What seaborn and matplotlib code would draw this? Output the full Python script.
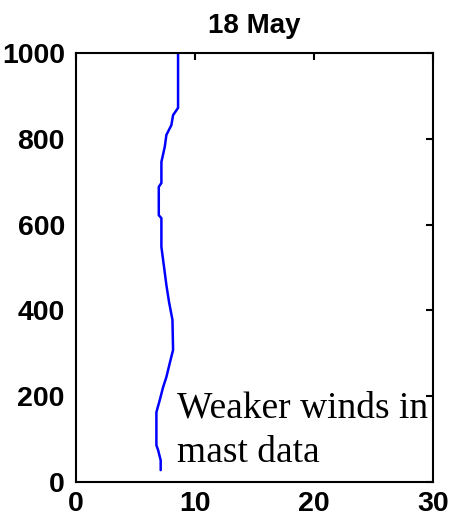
import matplotlib
matplotlib.use("Agg")
import matplotlib.pyplot as plt
import seaborn as sns
import pandas as pd

height = [1000, 872, 855, 832, 809, 781, 746, 697, 688, 622, 615, 548, 506, 459, 420, 378, 308, 277, 245, 221, 191, 163, 86, 75, 51, 28]
speed = [8.58, 8.58, 8.16, 8.02, 7.60, 7.46, 7.18, 7.18, 6.96, 6.96, 7.18, 7.18, 7.38, 7.60, 7.82, 8.11, 8.16, 7.88, 7.60, 7.32, 7.04, 6.76, 6.76, 6.90, 7.12, 7.12]
title = "18 May"
note = "Weaker winds in\nmast data"
xticks = [0, 10, 20, 30]
yticks = [0, 200, 400, 600, 800, 1000]

df = pd.DataFrame({"speed": speed, "height": height})

sns.set_style("white")
plt.rcParams["font.family"] = ["Liberation Sans", "DejaVu Sans"]

fig = plt.figure(figsize=(4.52, 5.19), dpi=100)
ax = fig.add_axes([0.168, 0.071, 0.790, 0.827])
sns.lineplot(data=df, x="speed", y="height", sort=False, estimator=None,
             orient="y", color="#0000ff", linewidth=1.8, ax=ax)
ax.set_xlim(0, 30)
ax.set_ylim(0, 1000)
ax.set_xticks(xticks)
ax.set_yticks(yticks)
ax.set_xlabel("")
ax.set_ylabel("")
for s in ax.spines.values():
    s.set_visible(True)
    s.set_color("black")
    s.set_linewidth(1.5)
ax.tick_params(direction="in", length=5, width=1.5, top=True, right=True,
               labelsize=20.5, colors="black")
ax.tick_params(axis="x", pad=6.5)
ax.tick_params(axis="y", pad=8)
for lab in ax.get_xticklabels() + ax.get_yticklabels():
    lab.set_fontweight("bold")
ax.set_title(title, fontsize=20, fontweight="bold", pad=14, color="black")
ax.text(8.5, 46, note, fontsize=27, family=["Liberation Serif", "DejaVu Serif"],
        va="baseline", ha="left", linespacing=1.4, color="black")
fig.savefig("out.png", dpi=100)
